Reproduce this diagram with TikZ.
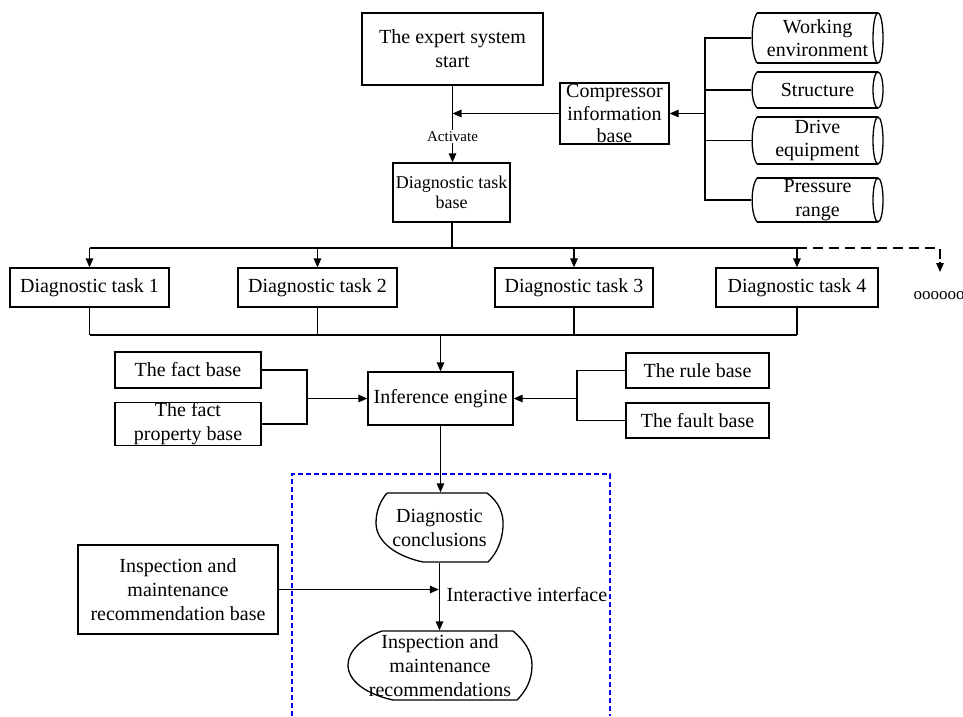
\documentclass[tikz,border=0pt]{standalone}
\usepackage{fontspec}
\setmainfont{Liberation Serif}
\usetikzlibrary{arrows.meta}
\newcommand{\mainsize}{\fontsize{20}{24}\selectfont}
\newcommand{\tasksize}{\fontsize{18}{20.5}\selectfont}
\newcommand{\tagsize}{\fontsize{15}{17}\selectfont}
% lying drum: left x, right x, top y, bottom y
\newcommand{\drumshape}[4]{%
  \draw ({#1+5},#3) -- ({#2-5},#3);
  \draw ({#1+5},#4) -- ({#2-5},#4);
  \draw ({#1+5},#3) .. controls ({#1-1.5},{#3+0.2*(#4-#3)}) and ({#1-1.5},{#4-0.2*(#4-#3)}) .. ({#1+5},#4);
  \draw ({#2-5},{(#3+#4)/2}) ellipse [x radius=5pt, y radius={(#4-#3)/2*1pt}];}
\begin{document}
\begin{tikzpicture}[x=1pt,y=-1pt,
  line width=1.3pt,
  >={Triangle[length=9pt,width=7.5pt]},
  box/.style={draw, rectangle, align=center, font=\mainsize, inner sep=0pt},
  bare/.style={align=center, font=\mainsize, inner sep=0pt},
  dashlink/.style={dash pattern=on 10pt off 6pt},
  frame/.style={draw=blue, line width=1.2pt, dash pattern=on 5pt off 3pt}]
\useasboundingbox (0,0) rectangle (963,716);

% top: start, information base and its sources
\node[box, minimum width=181, minimum height=72] (start) at (452.5,49) {The expert system\\start};
\node[box, minimum width=109, minimum height=61, font=\fontsize{20}{22.5}\selectfont] (comp) at (614.5,113.5) {Compressor\\information\\base};
\node[bare, minimum width=131, minimum height=50, font=\fontsize{20}{23}\selectfont] (env) at (817.5,38) {Working\\environment};
\node[bare, minimum width=131, minimum height=36] (struct) at (817.5,90) {Structure};
\node[bare, minimum width=131, minimum height=47] (drive) at (817.5,140.5) {Drive\\equipment};
\node[bare, minimum width=131, minimum height=44] (press) at (817.5,200) {Pressure\\range};
\drumshape{752}{883}{13}{63}
\drumshape{752}{883}{72}{108}
\drumshape{752}{883}{117}{164}
\drumshape{752}{883}{178}{222}
\node[box, minimum width=117, minimum height=59, font=\tasksize] (dtb) at (451.5,192.5) {Diagnostic task\\base};

% diagnostic tasks
\node[box, minimum width=159, minimum height=39] (t1) at (89.5,287.5) {Diagnostic task 1};
\node[box, minimum width=159, minimum height=39] (t2) at (317.5,287.5) {Diagnostic task 2};
\node[box, minimum width=158, minimum height=39] (t3) at (574,287.5) {Diagnostic task 3};
\node[box, minimum width=162, minimum height=39] (t4) at (797,287.5) {Diagnostic task 4};
\node[bare, anchor=west, font=\fontsize{17}{18}\selectfont] (more) at (913,296) {oooooo};

% inference stage
\node[box, minimum width=145, minimum height=53] (engine) at (440.5,398.5) {Inference engine};
\node[box, minimum width=146, minimum height=36] (fact) at (188,370) {The fact base};
\node[box, minimum width=146, minimum height=42] (fprop) at (188,424) {The fact\\property base};
\node[box, minimum width=143, minimum height=35] (rule) at (697.5,370.5) {The rule base};
\node[box, minimum width=143, minimum height=35] (fault) at (697.5,420.5) {The fault base};

% interactive part
\node[box, minimum width=200, minimum height=89] (irb) at (178,589.5) {Inspection and\\maintenance\\recommendation base};
\node[bare, minimum width=127, minimum height=69] (dc) at (439.5,527.5) {Diagnostic\\conclusions};
\node[bare, minimum width=184, minimum height=69] (imr) at (440,665.5) {Inspection and\\maintenance\\recommendations};
\draw (387,493) -- (487,493) .. controls (499,502) and (504,514) .. (503,527)
  .. controls (502,541) and (497,553) .. (488,562) -- (423,562)
  .. controls (395,556) and (376,541) .. (376,523)
  .. controls (376,510) and (381,500) .. (387,493);
\draw (382,631) -- (513,631) .. controls (525,641) and (532,652) .. (532,665)
  .. controls (532,680) and (526,691) .. (517,700) -- (393,700)
  .. controls (366,694) and (348,681) .. (348,665)
  .. controls (348,651) and (362,638) .. (382,631);
\draw[frame] (292,716) -- (292,474) -- (610,474) -- (610,716);

% start -> task base
\coordinate (mid) at (start.south |- comp.west);
\draw[->] (start.south) -- node[pos=0.66, fill=white, inner sep=1.5pt, font=\tagsize] (act) {Activate} (start.south |- dtb.north);
\draw[->] (comp.west) -- (mid);

% sources -> information base
\coordinate (sbus) at (705,113.5);
\draw (env.west) -| (sbus |- press.west) -- (press.west);
\draw (struct.west) -- (sbus |- struct.west);
\draw (drive.west) -- (sbus |- drive.west);
\draw[->] (sbus) -- (comp.east);

% task base -> tasks
\coordinate (tbus) at (452,248);
\coordinate (moretop) at (940,248);
\draw (dtb.south -| tbus) -- (tbus);
\draw (t1.north |- tbus) -- (t4.north |- tbus);
\foreach \t in {t1,t2,t3,t4} \draw[->] (\t.north |- tbus) -- (\t.north);
\draw[dashlink] (t4.north |- tbus) -- (moretop) -- ++(0,14);
\draw[->] (940,262) -- (940,272);

% tasks -> inference engine
\coordinate (bbus) at (440.5,335);
\foreach \t in {t1,t2,t3,t4} \draw (\t.south) -- (\t.south |- bbus);
\draw (t1.south |- bbus) -- (t4.south |- bbus);
\draw[->] (bbus) -- (engine.north);

% bases -> inference engine
\coordinate (lbus) at (307,398.5);
\coordinate (rbus) at (577,398.5);
\draw (fact.east) -| (lbus |- fprop.east) -- (fprop.east);
\draw[->] (lbus) -- (engine.west);
\draw (rule.west) -| (rbus |- fault.west) -- (fault.west);
\draw[->] (rbus) -- (engine.east);

% inference engine -> conclusions -> recommendations
\draw[->] (engine.south) -- (engine.south |- dc.north);
\draw[->] (dc.south) -- (dc.south |- imr.north);
\draw[->] (irb.east) -- ([xshift=-0.7pt]dc.south |- irb.east);
\node[bare, anchor=west] (ui) at (446,595) {Interactive interface};
\end{tikzpicture}
\end{document}
